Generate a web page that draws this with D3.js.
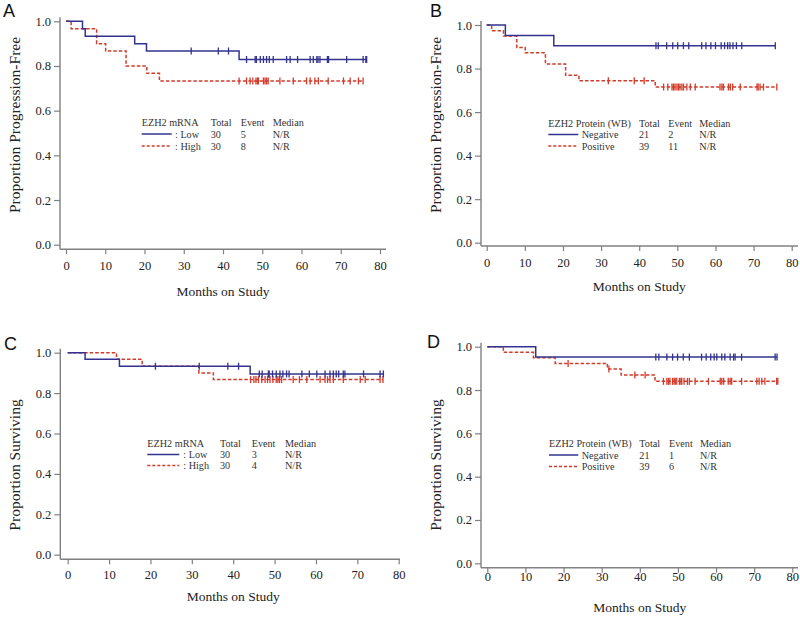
<!DOCTYPE html>
<html><head><meta charset="utf-8">
<script src="https://cdn.jsdelivr.net/npm/d3@7"></script>
<style>
body{margin:0;background:#fff;}
svg{display:block;}
text{font-family:"Liberation Serif","Times New Roman",serif;fill:#222;}
</style></head>
<body><svg id="c" width="800" height="617"></svg>
<script>
// ---------- DATA ----------
const xTicks = [0,10,20,30,40,50,60,70,80];
const yTicks = [0.0,0.2,0.4,0.6,0.8,1.0];

// Panel A (PFS, mRNA)
const aLowSteps  = [[0,1],[4.2,0.967],[4.9,0.933],[17.5,0.9],[20.5,0.867],[44.1,0.829]];
const aLowCens   = [31.9,38.8,41.4,46.0,48.2,48.5,49.5,50.3,51.1,51.8,52.8,56.2,57.1,59.0,62.2,63.0,63.9,64.2,64.7,66.6,66.9,71.5,75.7,76.4,76.6];
const aHighSteps = [[0,1],[1.3,0.967],[7.8,0.9],[10.1,0.867],[15.3,0.8],[20.6,0.767],[23.8,0.733]];
const aHighCens  = [44.1,46.0,46.9,47.6,48.4,48.8,49.0,50.3,50.7,51.1,51.5,54.5,57.9,61.3,62.2,63.4,64.3,66.8,70.7,72.4,74.5,75.7];

// Panel B (PFS, protein)
const bNegSteps = [[0,1],[4.9,0.952],[17.6,0.905]];
const bNegCens  = [44.4,45.0,47.2,48.8,50.1,51.6,53.0,56.4,57.5,58.8,60.0,61.5,62.4,63.2,63.8,64.6,65.5,66.9,75.7];
const bPosSteps = [[0,1],[1.3,0.974],[4.4,0.949],[7.9,0.897],[10.1,0.872],[15.4,0.821],[20.7,0.769],[24.2,0.744],[44.2,0.715]];
const bPosCens  = [31.9,38.7,41.3,46.4,47.5,48.6,49.0,49.4,49.9,50.3,50.7,51.2,51.6,52.5,53.4,54.7,61.2,61.7,62.1,63.4,63.9,64.5,66.5,70.9,71.2,71.7,72.6,76.1];

// Panel C (OS, mRNA)
const cLowSteps  = [[0,1],[4.2,0.967],[12.5,0.933],[44.1,0.895]];
const cLowCens   = [21.2,31.8,38.7,41.3,46.3,47.0,48.5,48.7,49.5,50.4,51.3,52.0,52.9,53.5,56.6,58.4,60.2,62.2,63.4,64.2,64.9,65.5,66.6,67.0,71.5,75.5,76.3];
const cHighSteps = [[0,1],[11.8,0.967],[18.0,0.933],[31.7,0.9],[35.2,0.867]];
const cHighCens  = [44.2,45.0,45.5,46.1,46.9,47.7,48.3,48.9,49.6,50.4,50.8,51.2,51.7,54.5,56.0,57.8,61.0,62.2,62.8,63.4,64.2,66.6,70.7,71.9,75.5,76.2];

// Panel D (OS, protein)
const dNegSteps = [[0,1],[12.7,0.952]];
const dNegCens  = [44.2,45.0,47.1,48.6,49.9,51.4,53.0,56.2,57.4,58.6,59.5,60.2,61.5,62.3,63.7,64.6,65.0,66.7,75.5,76.0];
const dPosSteps = [[0,1],[4.2,0.974],[12.1,0.949],[17.8,0.923],[31.5,0.897],[35.1,0.869],[44.0,0.84]];
const dPosCens  = [21.2,31.9,38.7,41.4,46.2,47.1,47.5,47.9,48.6,49.0,49.3,49.7,50.4,50.8,51.0,51.6,52.5,53.0,54.5,58.0,61.1,61.5,62.0,63.2,63.7,64.1,66.7,70.7,71.3,72.0,72.8,75.9,76.2];

// Legend tables
const mrnaHeader = ["EZH2 mRNA","Total","Event","Median"];
const protHeader = ["EZH2 Protein (WB)","Total","Event","Median"];
const aLegend = [[": Low","30","5","N/R"],[": High","30","8","N/R"]];
const bLegend = [["Negative","21","2","N/R"],["Positive","39","11","N/R"]];
const cLegend = [[": Low","30","3","N/R"],[": High","30","4","N/R"]];
const dLegend = [["Negative","21","1","N/R"],["Positive","39","6","N/R"]];

// ---------- STYLE / LAYOUT ----------
const BLUE = "#33338f", RED = "#d23a2a", AXIS = "#808080";

const panels = [
 {letter:"A", lx:3, ly:17, ylabel:"Proportion Progression-Free", ylx:20, yly:125,
  axX:60, y1:21.3, y0:244.7, axY:249.3, x0:66, x80:380, axEnd:386,
  tickLblY:270, titleY:296,
  s1:aLowSteps, c1:aLowCens, s2:aHighSteps, c2:aHighCens,
  header:mrnaHeader, rows:aLegend, legX:[141.7,210.7,240.7,272.7], lineEnd:171.7, lblX:175, legY:[125.5,137.5,149.5]},
 {letter:"B", lx:430, ly:17, ylabel:"Proportion Progression-Free", ylx:441, yly:125,
  axX:481, y1:25, y0:242.7, axY:246, x0:486.7, x80:791.7, axEnd:798,
  tickLblY:267, titleY:291,
  s1:bNegSteps, c1:bNegCens, s2:bPosSteps, c2:bPosCens,
  header:protHeader, rows:bLegend, legX:[548.3,639,668.3,699.3], lineEnd:578.3, lblX:581.7, legY:[126.5,138,149.5]},
 {letter:"C", lx:4, ly:350, ylabel:"Proportion Surviving", ylx:20, yly:465,
  axX:60.3, y1:352.7, y0:554.7, axY:559.3, x0:67.7, x80:398.7, axEnd:400,
  tickLblY:579, titleY:601,
  s1:cLowSteps, c1:cLowCens, s2:cHighSteps, c2:cHighCens,
  header:mrnaHeader, rows:cLegend, legX:[147.3,220,251.7,285], lineEnd:179.3, lblX:183.3, legY:[447,458,469]},
 {letter:"D", lx:427, ly:348, ylabel:"Proportion Surviving", ylx:441, yly:465,
  axX:481, y1:346.7, y0:563.3, axY:567.7, x0:487.3, x80:792.3, axEnd:798,
  tickLblY:581, titleY:612,
  s1:dNegSteps, c1:dNegCens, s2:dPosSteps, c2:dPosCens,
  header:protHeader, rows:dLegend, legX:[549,639.3,669,700], lineEnd:578.3, lblX:581.7, legY:[447,458.5,470]}
];

const svg = d3.select("#c");

function survAt(steps, t){
  let s = steps[0][1];
  for (const [tt, v] of steps) { if (tt <= t) s = v; }
  return s;
}

function drawPanel(p){
  const g = svg.append("g");
  const x = d3.scaleLinear().domain([0,80]).range([p.x0, p.x80]);
  const y = d3.scaleLinear().domain([0,1]).range([p.y0, p.y1]);

  g.append("text").attr("x",p.lx).attr("y",p.ly)
   .style("font-family","'Liberation Sans',Arial,sans-serif").style("font-size","18px").style("fill","#111")
   .text(p.letter);

  const ya = g.append("g").attr("transform",`translate(${p.axX},0)`)
    .call(d3.axisLeft(y).tickValues(yTicks).tickFormat(d3.format(".1f")).tickSize(6).tickSizeOuter(0));
  ya.select(".domain").remove();
  g.append("line").attr("x1",p.axX).attr("x2",p.axX).attr("y1",p.y1-4).attr("y2",p.axY)
   .attr("stroke",AXIS).attr("stroke-width",1.4);
  ya.selectAll(".tick line").attr("stroke",AXIS).attr("stroke-width",1.2);
  ya.selectAll(".tick text").attr("x",-9).style("font-size","12.5px")
    .style("font-family","'Liberation Serif',serif").style("fill","#222");

  const xa = g.append("g").attr("transform",`translate(0,${p.axY})`)
    .call(d3.axisBottom(x).tickValues(xTicks).tickFormat(d3.format("d")).tickSize(5).tickSizeOuter(0));
  xa.select(".domain").remove();
  g.append("line").attr("x1",p.axX).attr("x2",p.axEnd).attr("y1",p.axY).attr("y2",p.axY)
   .attr("stroke",AXIS).attr("stroke-width",1.4);
  xa.selectAll(".tick line").attr("stroke",AXIS).attr("stroke-width",1.2);
  xa.selectAll(".tick text").attr("y",null).attr("dy",null)
    .attr("transform",`translate(0,${p.tickLblY - p.axY})`)
    .style("font-size","12.5px").style("font-family","'Liberation Serif',serif").style("fill","#222");

  g.append("text").attr("x",(p.x0+p.x80)/2).attr("y",p.titleY).attr("text-anchor","middle")
   .style("font-size","13.5px").text("Months on Study");
  g.append("text").attr("transform",`translate(${p.ylx},${p.yly}) rotate(-90)`).attr("text-anchor","middle")
   .style("font-size","15.5px").text(p.ylabel);

  function curve(steps, cens, color, dash){
    const end = d3.max(cens);
    const pts = steps.concat([[end, steps[steps.length-1][1]]]);
    const line = d3.line().x(d=>x(d[0])).y(d=>y(d[1])).curve(d3.curveStepAfter);
    g.append("path").attr("d",line(pts)).attr("fill","none").attr("stroke",color)
     .attr("stroke-width",1.5).attr("stroke-dasharray",dash);
    g.selectAll(null).data(cens).enter().append("line")
     .attr("x1",d=>x(d)).attr("x2",d=>x(d))
     .attr("y1",d=>y(survAt(steps,d))-3.5).attr("y2",d=>y(survAt(steps,d))+3.5)
     .attr("stroke",color).attr("stroke-width",1.3);
  }
  curve(p.s2, p.c2, RED, "3.5,2");
  curve(p.s1, p.c1, BLUE, null);

  const lg = g.append("g").style("font-size","10.2px");
  p.header.forEach((h,i)=>{
    lg.append("text").attr("x",p.legX[i]).attr("y",p.legY[0]).text(h).style("fill","#333");
  });
  p.rows.forEach((r,ri)=>{
    const yy = p.legY[ri+1];
    lg.append("line").attr("x1",p.legX[0]).attr("x2",p.lineEnd).attr("y1",yy-3.5).attr("y2",yy-3.5)
      .attr("stroke", ri===0?BLUE:RED).attr("stroke-width",1.5).attr("stroke-dasharray", ri===0?null:"3,2");
    lg.append("text").attr("x",p.lblX).attr("y",yy).text(r[0]).style("fill","#333");
    for (let k=1;k<4;k++) lg.append("text").attr("x",p.legX[k]).attr("y",yy).text(r[k]).style("fill","#333");
  });
}
panels.forEach(drawPanel);
</script></body></html>
